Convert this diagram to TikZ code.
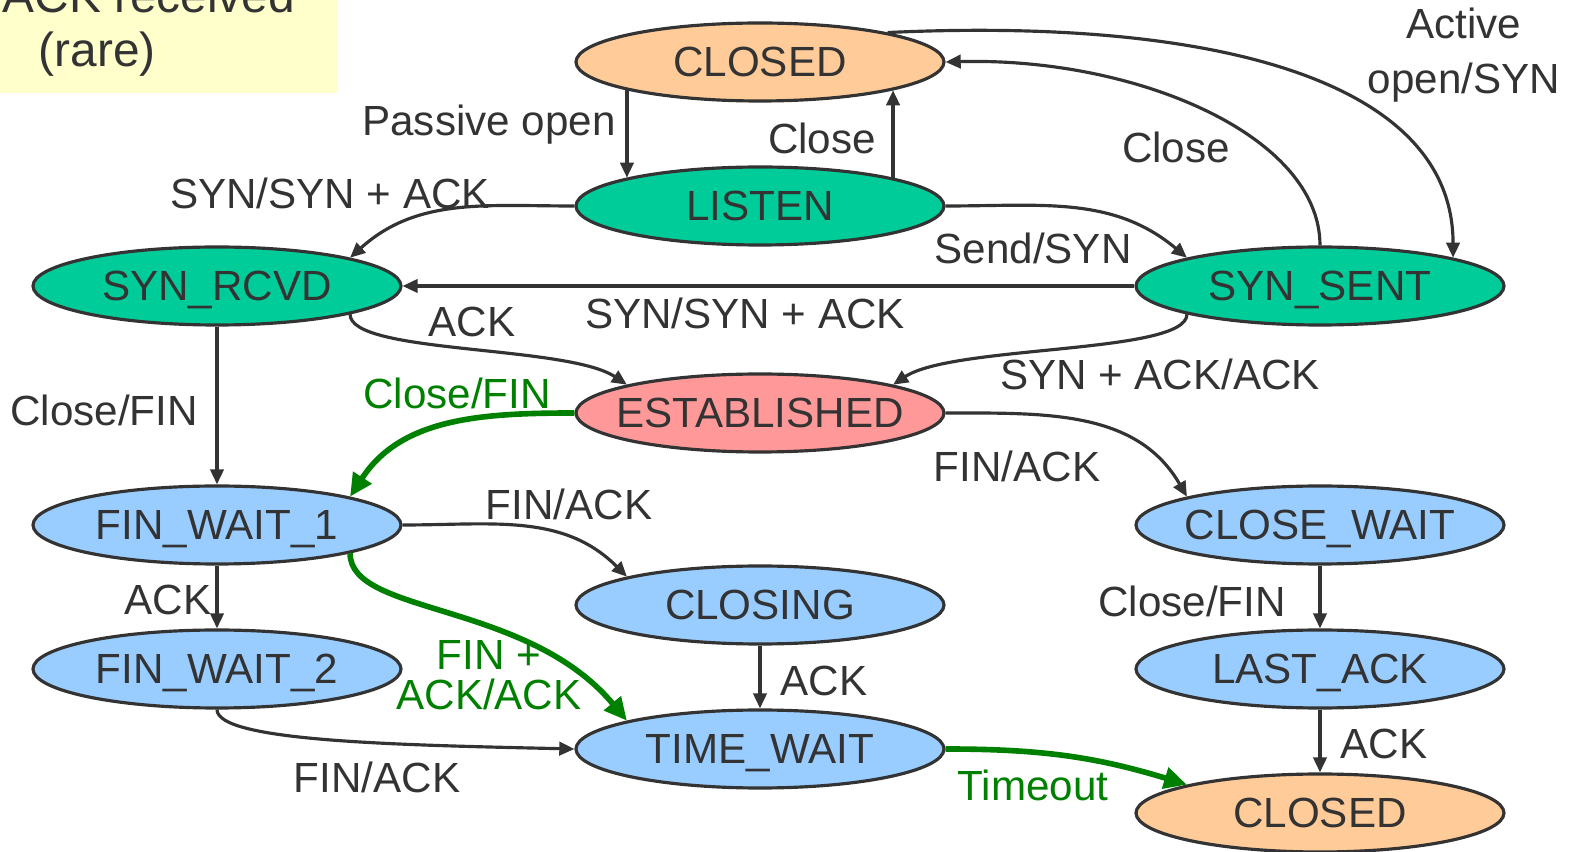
\documentclass[tikz,border=0pt]{standalone}
\usepackage{fontspec}
\setmainfont{Liberation Sans}
\definecolor{StateOrange}{RGB}{255,204,153}
\definecolor{StateGreen} {RGB}{0,204,153}
\definecolor{StatePink}  {RGB}{255,153,153}
\definecolor{StateBlue}  {RGB}{153,204,255}
\definecolor{NoteYellow} {RGB}{255,255,204}
\definecolor{InkGray}    {RGB}{51,51,51}
\definecolor{PathGreen}  {RGB}{0,128,0}
\usetikzlibrary{arrows.meta,shapes.geometric}
\newcommand{\tcpfont}{\fontsize{12}{14}\selectfont}
\newcommand{\notefont}{\fontsize{13.6}{15.4}\selectfont}
\tikzset{
  tcpstate/.style={ellipse,draw=InkGray,line width=0.9pt,minimum width=3.68cm,
                   minimum height=0.78cm,inner xsep=-0.2cm,inner ysep=0pt,
                   text depth=0pt,text=InkGray,font=\tcpfont},
  stclosed/.style={tcpstate,fill=StateOrange},
  stopen/.style={tcpstate,fill=StateGreen},
  stest/.style={tcpstate,fill=StatePink},
  stclosing/.style={tcpstate,fill=StateBlue},
  trans/.style={draw=InkGray,line width=0.9pt,-{Triangle[length=4.3pt,width=3.8pt]}},
  maintrans/.style={draw=PathGreen,line width=1.6pt,-{Triangle[length=6.5pt,width=6pt]}},
  lbl/.style={text=InkGray,font=\tcpfont,inner sep=0pt},
  greenlbl/.style={lbl,text=PathGreen},
}

\begin{document}
\begin{tikzpicture}
  \useasboundingbox (0,0) rectangle (15.75,-8.52);
  %% note in the corner (cut at the top, as in the slide)
  \fill[NoteYellow] (-0.1,0.1) rectangle (3.37,-0.93);
  \node[lbl,font=\notefont,anchor=base west] (note1) at (0.02,-0.13) {ACK received};
  \node[lbl,font=\notefont,anchor=base west] (note2) at (0.38,-0.67) {(rare)};
  %% states
  \node[stclosed]  (closedA)   at (7.60,-0.62) {CLOSED};
  \node[stopen]    (listen)    at (7.60,-2.06) {LISTEN};
  \node[stopen]    (synrcvd)   at (2.17,-2.86) {SYN\_RCVD};
  \node[stopen]    (synsent)   at (13.20,-2.86) {SYN\_SENT};
  \node[stest]     (estab)     at (7.60,-4.13) {ESTABLISHED};
  \node[stclosing] (finwait1)  at (2.17,-5.25) {FIN\_WAIT\_1};
  \node[stclosing] (closewait) at (13.20,-5.25) {CLOSE\_WAIT};
  \node[stclosing] (closing)   at (7.60,-6.05) {CLOSING};
  \node[stclosing] (finwait2)  at (2.17,-6.69) {FIN\_WAIT\_2};
  \node[stclosing] (lastack)   at (13.20,-6.69) {LAST\_ACK};
  \node[stclosing] (timewait)  at (7.60,-7.49) {TIME\_WAIT};
  \node[stclosed]  (closedB)   at (13.20,-8.13) {CLOSED};
  %% opening transitions
  \draw[trans] (closedA.192) -- (listen.168);
  \node[lbl] (lpassive) at (4.89,-1.25) {Passive open};
  \draw[trans] (listen.12) -- (closedA.348);
  \node[lbl] (lclose1) at (8.22,-1.38) {Close};
  \draw[trans] (listen.west) to[out=180,in=42] (synrcvd.12);
  \node[lbl] (lsynack1) at (3.30,-1.93) {SYN/SYN + ACK};
  \draw[trans] (listen.east) to[out=0,in=140] (synsent.168);
  \node[lbl] (lsend) at (10.33,-2.48) {Send/SYN};
  \draw[trans] (synsent.west) -- (synrcvd.east);
  \node[lbl] (lsynack2) at (7.45,-3.13) {SYN/SYN + ACK};
  \draw[trans] (synsent.north) .. controls +(0,1.1) and +(1.9,0.05) .. (closedA.east);
  \node[lbl] (lclose2) at (11.76,-1.47) {Close};
  \draw[trans] (closedA.13) .. controls +(3.2,0.15) and +(0,1.8) .. (synsent.12);
  \node[lbl,align=center,font=\fontsize{12}{15.6}\selectfont] (lactive) at (14.64,-0.55) {Active\\open/SYN};
  \draw[trans] (synrcvd.348) .. controls +(0,-0.4) and +(-0.6,0.4) .. (estab.168);
  \node[lbl] (lack1) at (4.72,-3.22) {ACK};
  \draw[trans] (synsent.192) .. controls +(0,-0.4) and +(0.6,0.4) .. (estab.12);
  \node[lbl] (lsynackack) at (11.60,-3.74) {SYN + ACK/ACK};
  %% closing transitions
  \draw[trans] (synrcvd.south) -- (finwait1.north);
  \node[lbl] (lclosefin1) at (1.04,-4.10) {Close/FIN};
  \draw[maintrans] (estab.west) to[out=180,in=57] (finwait1.12);
  \node[greenlbl] (lclosefin2) at (4.57,-3.93) {Close/FIN};
  \draw[trans] (estab.east) to[out=0,in=120] (closewait.168);
  \node[lbl] (lfinack1) at (10.17,-4.66) {FIN/ACK};
  \draw[trans] (finwait1.east) to[out=0,in=135] (closing.168);
  \node[lbl] (lfinack2) at (5.69,-5.04) {FIN/ACK};
  \draw[trans] (finwait1.south) -- (finwait2.north);
  \node[lbl] (lack2) at (1.68,-6.00) {ACK};
  \draw[maintrans] (finwait1.348) .. controls +(0,-0.62) and +(-1.0,1.2) .. (timewait.168);
  \node[greenlbl,align=center,font=\fontsize{12}{11.4}\selectfont] (lfinackack) at (4.89,-6.75) {FIN +\\ACK/ACK};
  \draw[trans] (closing.south) -- (timewait.north);
  \node[lbl] (lack3) at (8.24,-6.81) {ACK};
  \draw[trans] (finwait2.south) .. controls +(0,-0.32) and +(-1.76,0.04) .. (timewait.west);
  \node[lbl] (lfinack3) at (3.77,-7.77) {FIN/ACK};
  \draw[trans] (closewait.south) -- (lastack.north);
  \node[lbl] (lclosefin3) at (11.92,-6.01) {Close/FIN};
  \draw[trans] (lastack.south) -- (closedB.north);
  \node[lbl] (lack4) at (13.84,-7.44) {ACK};
  \draw[maintrans] (timewait.east) to[out=0,in=163] (closedB.168);
  \node[greenlbl] (ltimeout) at (10.33,-7.85) {Timeout};
\end{tikzpicture}
\end{document}
